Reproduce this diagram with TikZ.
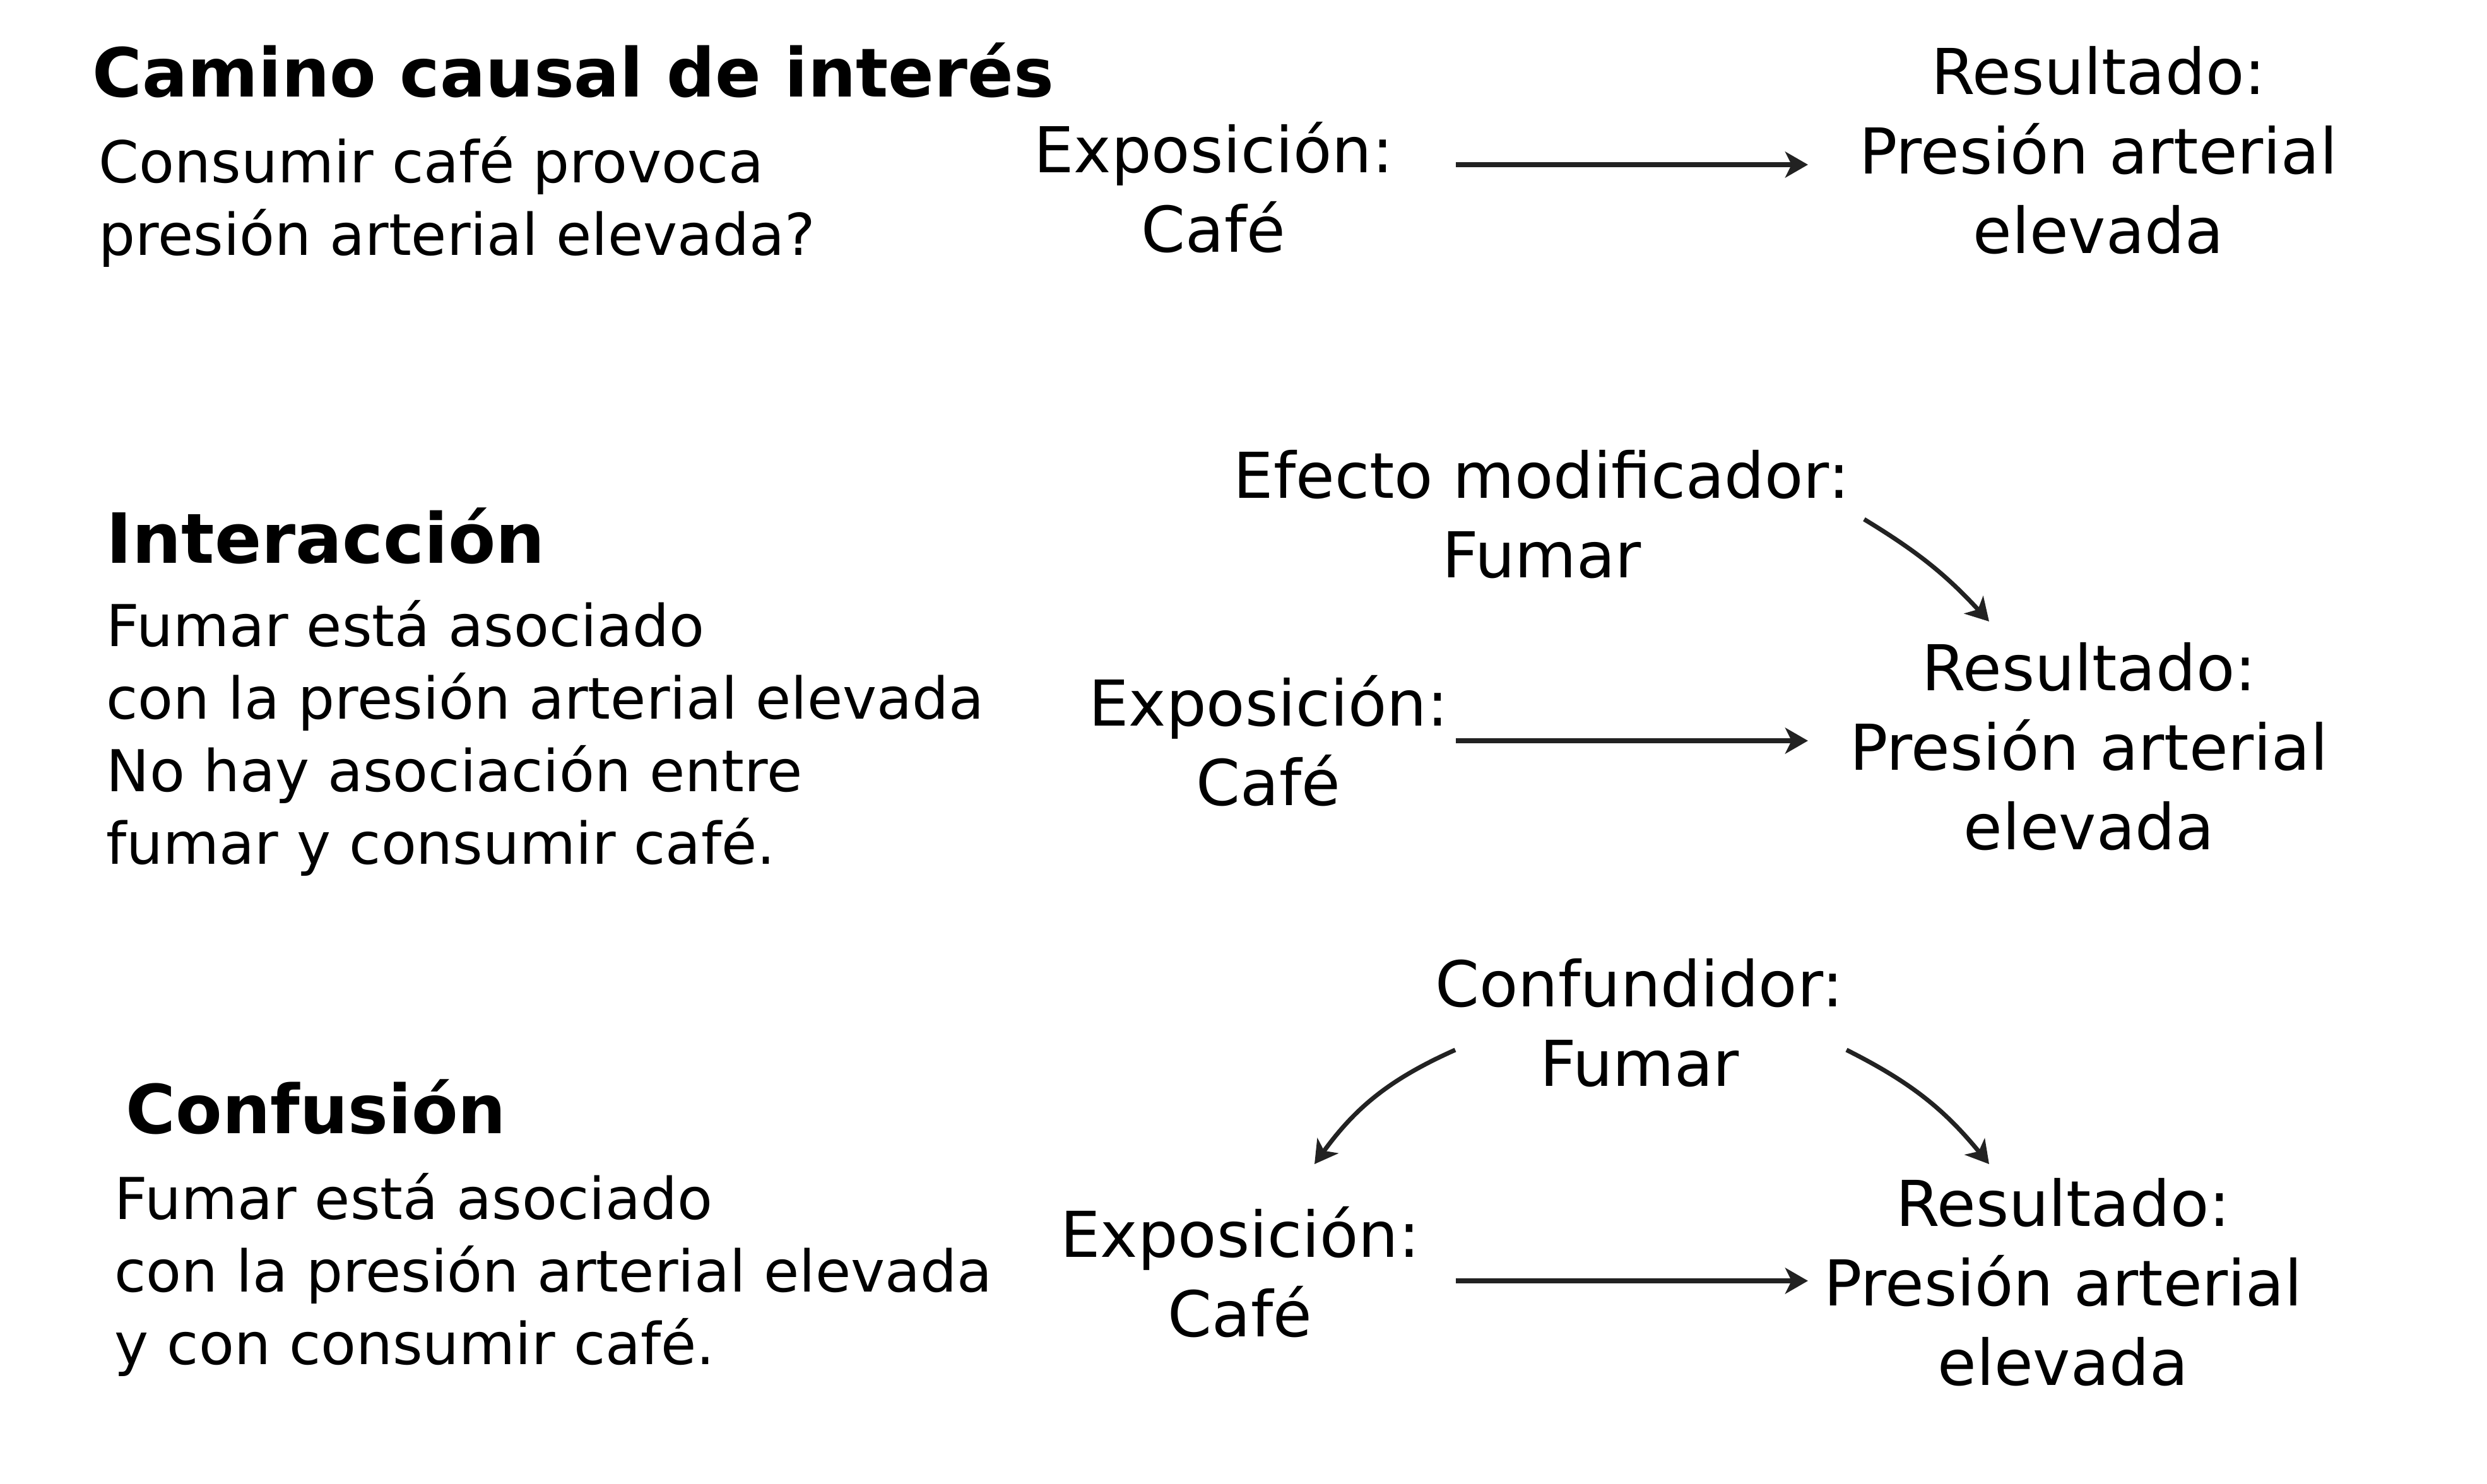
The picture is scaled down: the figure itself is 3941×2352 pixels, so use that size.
\documentclass[tikz,border=0pt]{standalone}
\usepackage{fontspec}
\setmainfont{DejaVu Sans}
\usetikzlibrary{arrows.meta,calc}
\definecolor{arrowgray}{HTML}{222222}
\begin{document}
\begin{tikzpicture}[x=0.01cm,y=-0.01cm,
 lbl/.style={font=\fontsize{28.5}{35.8}\selectfont, align=center, inner sep=0},
 body/.style={font=\fontsize{26}{32.7}\selectfont, align=left, anchor=west, inner sep=0},
 head/.style={font=\bfseries\fontsize{30.5}{36}\selectfont, anchor=west, inner sep=0},
 arr/.style={draw=arrowgray, line width=2pt, -{Stealth[length=0.36cm,width=0.41cm,inset=0.1cm]}}]
\useasboundingbox (0,0) rectangle (3941,2352);

% Section 1
\node[head] (h1) at (146,111) {Camino causal de interés};
\node[body] (b1) at (156,320) {Consumir café provoca\\presión arterial elevada?};
\node[lbl] (e1) at (1923,297) {Exposición:\\Café};
\node[lbl] (r1) at (3325,238) {Resultado:\\Presión arterial\\elevada};
\draw[arr] ($(e1)+(384,-36)$) -- ($(r1)+(-460,23)$);

% Section 2
\node[head, font=\bfseries\fontsize{31.2}{36}\selectfont] (h2) at (168,849) {Interacción};
\node[body] (b2) at (168,1170) {Fumar está asociado\\con la presión arterial elevada\\No hay asociación entre\\fumar y consumir café.};
\node[lbl] (m2) at (2443,815) {Efecto modificador:\\Fumar};
\node[lbl] (e2) at (2010,1174) {Exposición:\\Café};
\node[lbl] (r2) at (3310,1183) {Resultado:\\Presión arterial\\elevada};
\draw[arr] ($(e2)+(297,0)$) -- ($(r2)+(-445,-9)$);
\draw[arr] ($(m2)+(511,8)$) to[bend left=8] ($(r2)+(-158,-198)$);

% Section 3
\node[head] (h3) at (199,1754) {Confusión};
\node[body] (b3) at (181,2020) {Fumar está asociado\\con la presión arterial elevada\\y con consumir café.};
\node[lbl] (c3) at (2598,1621) {Confundidor:\\Fumar};
\node[lbl] (e3) at (1965,2016) {Exposición:\\Café};
\node[lbl] (r3) at (3269,2032) {Resultado:\\Presión arterial\\elevada};
\draw[arr] ($(e3)+(342,14)$) -- ($(r3)+(-404,-2)$);
\draw[arr] ($(c3)+(-292,43)$) to[bend right=15] ($(e3)+(118,-171)$);
\draw[arr] ($(c3)+(328,43)$) to[bend left=12] ($(r3)+(-117,-187)$);
\end{tikzpicture}
\end{document}
